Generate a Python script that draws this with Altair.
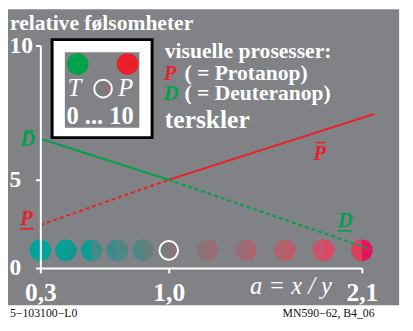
import altair as alt
import pandas as pd

FONT = "Liberation Serif"
BG = "#808286"
RED = "#e9202a"
GREEN = "#00a14b"

# axis ticks
a_ticks = [0.3, 1.0, 2.1]
level_ticks = [0, 5, 10]

# sample circles (two-tone: left half / right half)
circle_a = [0.3, 0.44, 0.58, 0.72, 0.86, 1.0, 1.22, 1.44, 1.66, 1.88, 2.1]
circle_level = [1.0] * 11
circle_left = ["#00a39b", "#05a097", "#0b9c96", "#3d8c8a", "#4f8786", "#747c7d",
               "#8c7378", "#9b6c74", "#ad646e", "#c9536a", "#dd3f5e"]
circle_right = ["#00a39b", "#14978f", "#3f8c89", "#4f8786", "#667e7e", "#8a7478",
                "#9a6d74", "#a9666f", "#bb5d69", "#d84a63", "#e8135d"]

# threshold lines
p_a = [0.3, 1.0, 2.17]
p_level = [2.44, 5.0, 7.45]
p_style = ["dashed", "solid"]
d_a = [0.3, 1.0, 2.15]
d_level = [6.53, 5.0, 1.06]
d_style = ["solid", "dashed"]

rows = []
for name, xs, ys, col, styles in [("P", p_a, p_level, RED, p_style),
                                  ("D", d_a, d_level, GREEN, d_style)]:
    for i, st in enumerate(styles):
        for j in (i, i + 1):
            rows.append(dict(seg=f"{name}{i}", style=st, a=xs[j], level=ys[j], color=col))
lines_df = pd.DataFrame(rows)

circ_df = pd.DataFrame({"a": circle_a, "level": circle_level,
                        "cl": circle_left, "cr": circle_right})
ring_df = circ_df.iloc[[5]]

xscale = alt.Scale(domain=a_ticks, range=[0, 131, 328])
yscale = alt.Scale(domain=level_ticks, range=[227, 137, 0])

axis_common = dict(domainColor="white", domainWidth=2, tickColor="white", tickWidth=2,
                   tickSize=5, labelColor="white", labelFont=FONT, labelFontWeight="bold",
                   grid=False, zindex=1, labelFlush=False, labelOverlap=False, title=None)

X = alt.X("a:Q", scale=xscale,
          axis=alt.Axis(values=a_ticks, labelFontSize=26, labelPadding=7,
                        labelExpr="replace(format(datum.value, '.1f'), '.', ',')",
                        **axis_common))
Y = alt.Y("level:Q", scale=yscale,
          axis=alt.Axis(values=level_ticks, labelFontSize=24, labelPadding=27,
                        labelAlign="left", labelBaseline="middle", format="d",
                        **axis_common))

LEFT_HALF = "M0,-1 A1,1 0 0,0 0,1 Z"
RIGHT_HALF = "M0,-1 A1,1 0 0,1 0,1 Z"


def one():
    return pd.DataFrame({"k": [0]})


def txt(text, x, y, size=22, color="white", weight="bold", style="normal",
        align="left", baseline="alphabetic"):
    return alt.Chart(pd.DataFrame({"t": [text]})).mark_text(
        font=FONT, fontSize=size, color=color, fontWeight=weight, fontStyle=style,
        align=align, baseline=baseline
    ).encode(x=alt.value(x), y=alt.value(y), text="t:N")


def rect(x, x2, y, y2, fill, stroke=None, sw=0):
    kw = dict(fill=fill, strokeWidth=sw)
    if stroke:
        kw["stroke"] = stroke
    return alt.Chart(one()).mark_rect(**kw).encode(
        x=alt.value(x), x2=alt.value(x2), y=alt.value(y), y2=alt.value(y2))


def bar(x1, x2, y, color):
    return alt.Chart(one()).mark_rule(color=color, strokeWidth=1.6).encode(
        x=alt.value(x1), x2=alt.value(x2), y=alt.value(y))


def dot(x, y, size, color=None, shape="circle", ring=False):
    if ring:
        m = alt.Chart(one()).mark_point(shape="circle", filled=False, size=size,
                                        stroke="white", strokeWidth=2, opacity=1)
    else:
        m = alt.Chart(one()).mark_point(shape=shape, filled=True, size=size,
                                        color=color, opacity=1)
    return m.encode(x=alt.value(x), y=alt.value(y))


background = rect(-38, 366, -37, 265, BG)
legend_box = rect(12, 114, -6, 94, "white", "black", 3)
legend_inner = rect(25, 101, 7, 84, BG)

legend_items = [
    dot(38, 19, 484, GREEN),
    dot(89, 19, 484, RED),
    dot(64, 44, 361, "#757c7d", LEFT_HALF),
    dot(64, 44, 361, "#8a7478", RIGHT_HALF),
    dot(64, 44, 324, ring=True),
    txt("T", 35, 44, size=25, weight="normal", style="italic", align="center", baseline="middle"),
    txt("P", 87, 44, size=25, weight="normal", style="italic", align="center", baseline="middle"),
    txt("0 ... 10", 61, 80, size=25, align="center"),
]

lines = alt.Chart(lines_df).mark_line(strokeWidth=2).encode(
    x=X, y=Y,
    color=alt.Color("color:N", scale=None),
    strokeDash=alt.StrokeDash("style:N", scale=alt.Scale(domain=["solid", "dashed"],
                                                          range=[[1, 0], [4, 3]]), legend=None),
    detail="seg:N",
)

left_half = alt.Chart(circ_df).mark_point(shape=LEFT_HALF, filled=True, size=484, opacity=1,
                                          strokeWidth=0).encode(
    x=X, y=Y, color=alt.Color("cl:N", scale=None))
right_half = alt.Chart(circ_df).mark_point(shape=RIGHT_HALF, filled=True, size=484, opacity=1,
                                           strokeWidth=0).encode(
    x=X, y=Y, color=alt.Color("cr:N", scale=None))
ring = alt.Chart(ring_df).mark_point(shape="circle", filled=False, size=361, stroke="white",
                                     strokeWidth=2, opacity=1).encode(x=X, y=Y)

texts = [
    txt("relative følsomheter", -31, -16, size=22),
    txt("visuelle prosesser:", 127, 13, size=22),
    txt("P", 126, 35, size=21, color=RED, style="italic"),
    txt("( = Protanop)", 147, 35, size=22),
    txt("D", 126, 56, size=21, color=GREEN, style="italic"),
    txt("( = Deuteranop)", 147, 56, size=22),
    txt("terskler", 127, 84, size=26),
    txt("a = x / y", 214, 254, size=25, weight="normal", style="italic"),
    txt("5\u2212103100\u2212L0", -31, 277, size=12, color="#111111", weight="normal"),
    txt("MN590\u221262, B4_06", 341, 277, size=12, color="#111111", weight="normal", align="right"),
    # line labels
    txt("D", -13, 103, size=21, color=GREEN, style="italic", align="center"),
    bar(-16, -7, 87, GREEN),
    txt("P", -14, 183, size=21, color=RED, style="italic", align="center"),
    bar(-21, -7, 187, RED),
    txt("P", 285, 117, size=21, color=RED, style="italic", align="center"),
    bar(281, 291, 99, RED),
    txt("D", 311, 185, size=21, color=GREEN, style="italic", align="center"),
    bar(303, 318, 189, GREEN),
]

chart = alt.layer(
    background, legend_box, legend_inner, *legend_items,
    left_half, right_half, ring, lines, *texts
).properties(
    width=328, height=227,
    padding={"left": 33, "top": 35, "right": 44, "bottom": 61},
    autosize="none", background="white",
).configure_view(stroke=None)

chart.save("out.html", embed_options={"renderer": "svg", "actions": False})
